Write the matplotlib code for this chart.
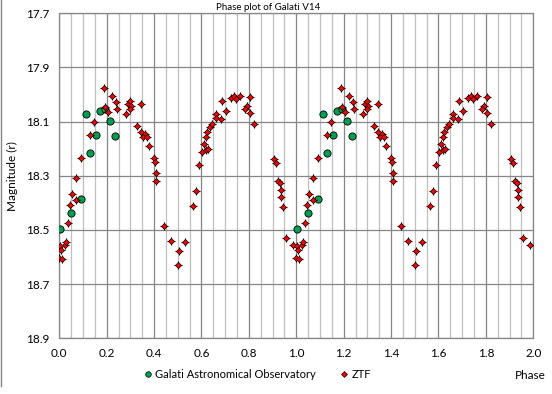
import numpy as np
import matplotlib
matplotlib.use('Agg')
import matplotlib.pyplot as plt
from matplotlib.lines import Line2D

plt.rcParams['font.family'] = ['Lato', 'DejaVu Sans']

# ZTF phase / magnitude (one cycle, plotted twice)
ztf_phase = [0.000, 0.003, 0.007, 0.012, 0.024, 0.030, 0.038, 0.046, 0.053, 0.069,
             0.072, 0.093, 0.128, 0.148, 0.190, 0.193, 0.207, 0.224, 0.240, 0.245,
             0.283, 0.288, 0.299, 0.304, 0.300, 0.346, 0.328, 0.345, 0.362, 0.353,
             0.370, 0.377, 0.399, 0.405, 0.408, 0.409, 0.442, 0.472, 0.506, 0.503,
             0.532, 0.564, 0.578, 0.591, 0.604, 0.619, 0.627, 0.612, 0.617, 0.622,
             0.634, 0.645, 0.662, 0.663, 0.684, 0.688, 0.705, 0.726, 0.737, 0.744,
             0.764, 0.806, 0.794, 0.785, 0.806, 0.823, 0.907, 0.916, 0.924, 0.930,
             0.935, 0.934, 0.942, 0.958, 0.987]
ztf_mag = [18.605, 18.558, 18.575, 18.607, 18.556, 18.545, 18.475, 18.409, 18.367, 18.391,
           18.309, 18.235, 18.151, 18.100, 17.974, 18.045, 18.066, 18.006, 18.029, 18.055,
           18.070, 18.036, 18.024, 18.042, 18.055, 18.036, 18.117, 18.137, 18.146, 18.157,
           18.158, 18.190, 18.235, 18.248, 18.291, 18.320, 18.484, 18.542, 18.579, 18.631,
           18.546, 18.410, 18.357, 18.261, 18.211, 18.205, 18.202, 18.181, 18.156, 18.140,
           18.119, 18.107, 18.071, 18.087, 18.091, 18.022, 18.061, 18.012, 18.007, 18.018,
           18.004, 18.008, 18.041, 18.052, 18.069, 18.110, 18.239, 18.254, 18.320, 18.325,
           18.351, 18.379, 18.416, 18.528, 18.557]

# Galati Astronomical Observatory
gao_phase = [0.002, 0.048, 0.092, 0.112, 0.128, 0.155, 0.171, 0.192, 0.214, 0.235]
gao_mag = [18.497, 18.436, 18.386, 18.072, 18.215, 18.150, 18.060, 18.052, 18.097, 18.153]

xticks = np.arange(0, 2.01, 0.2)
yticks = np.arange(17.7, 18.91, 0.2)

zp = np.array(ztf_phase)
gp = np.array(gao_phase)

fig = plt.figure(figsize=(5.52, 3.94), dpi=100)
ax = fig.add_axes([0.1074, 0.1414, 0.8587, 0.8248])

green = '#00a050'
red = '#ff0000'

for off in (0, 1):
    ax.plot(gp + off, gao_mag, 'o', ms=5.2, mfc=green, mec='black', mew=0.6, zorder=3)
for off in (0, 1):
    ax.plot(zp + off, ztf_mag, '+', ms=6, color='black', mew=0.8, zorder=4)
    ax.plot(zp + off, ztf_mag, 'D', ms=3.1, mfc=red, mec='black', mew=0.5, zorder=5)

ax.set_xlim(0, 2)
ax.set_ylim(18.9, 17.7)
ax.set_xticks(xticks)
ax.set_xticklabels(['%.1f' % v for v in xticks])
ax.set_yticks(yticks)
ax.set_yticklabels(['%.1f' % v for v in yticks])
ax.set_xticks(np.arange(0, 2.001, 0.05), minor=True)
ax.tick_params(which='both', length=0, labelsize=8.5, pad=7)
ax.grid(which='minor', axis='x', color='#bfbfbf', lw=0.9)
ax.grid(which='major', color='#868686', lw=0.9)
ax.set_axisbelow(True)
for s in ax.spines.values():
    s.set_color('#868686')
    s.set_linewidth(0.9)

fig.text(0.486, 0.982, 'Phase plot of Galati V14', fontsize=7, ha='center', va='center')
ax.set_ylabel('Magnitude (r)', fontsize=8.5, labelpad=6)
fig.text(0.988, 0.048, 'Phase', fontsize=8.5, ha='right', va='center')

handles = [Line2D([], [], ls='', marker='o', ms=4, mfc=green, mec='black', mew=0.5),
           Line2D([], [], ls='', marker='D', ms=3, mfc=red, mec='black', mew=0.5)]
fig.legend(handles, ['Galati Astronomical Observatory', 'ZTF'], ncol=2, frameon=False,
           loc='center', bbox_to_anchor=(0.465, 0.05), fontsize=8,
           handletextpad=0.2, columnspacing=2.0, handlelength=1.0)

fig.add_artist(Line2D([0.001, 0.001], [0.02, 1.0], color='#868686', lw=1,
                      transform=fig.transFigure))

fig.savefig('out.png', dpi=100)
